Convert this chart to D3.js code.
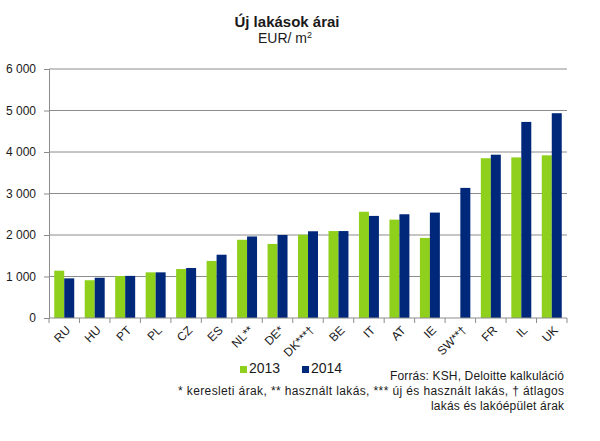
<!DOCTYPE html>
<html>
<head>
<meta charset="utf-8">
<script src="https://cdn.jsdelivr.net/npm/d3@7"></script>
<style>
body { margin: 0; background: #fff; }
text { font-family: "Liberation Sans", Arial, sans-serif; fill: #1a1a1a; }
</style>
</head>
<body>
<div id="chart"></div>
<script>
// adatok
var orszagok = ["RU", "HU", "PT", "PL", "CZ", "ES", "NL**", "DE*", "DK***†", "BE", "IT", "AT", "IE", "SW**†", "FR", "IL", "UK"];
var ev2013 = [1140, 910, 1010, 1100, 1180, 1375, 1885, 1785, 2005, 2095, 2560, 2370, 1930, null, 3850, 3870, 3920];
var ev2014 = [955, 970, 1015, 1100, 1205, 1525, 1965, 2000, 2090, 2095, 2460, 2500, 2540, 3135, 3935, 4725, 4935];
var evek = ["2013", "2014"];
var yTicks = [0, 1000, 2000, 3000, 4000, 5000, 6000];
var szinek = ["#8fd01c", "#00287a"];

var width = 600, height = 441;
var pLeft = 49, pRight = 567, pTop = 69, pBottom = 318;

var svg = d3.select("#chart")
	.append("svg")
	.attr("width", width)
	.attr("height", height);

var x = d3.scaleBand()
	.domain(orszagok)
	.range([pLeft, pRight]);

var x2 = d3.scaleBand()
	.domain(evek)
	.range([0, x.bandwidth()])
	.paddingOuter(0.525);

var y = d3.scaleLinear()
	.domain([0, 6000])
	.range([pBottom, pTop]);

var szam = function(d){ return d3.format(",")(d).replace(",", " "); };

// rácsvonalak
svg.append("g")
	.selectAll("line")
	.data(yTicks.filter(function(d){ return d > 0; }))
	.enter()
	.append("line")
	.attr("x1", pLeft)
	.attr("x2", pRight)
	.attr("y1", function(d){ return y(d); })
	.attr("y2", function(d){ return y(d); })
	.style("stroke", "#8c8c8c")
	.style("stroke-width", 1);

// y tengely
var yAxis = svg.append("g")
	.attr("transform", "translate(" + pLeft + ",0)")
	.call(d3.axisLeft(y).tickValues(yTicks).tickFormat(szam).tickSize(5).tickPadding(8));
yAxis.select(".domain").style("stroke", "#8c8c8c");
yAxis.selectAll(".tick line").style("stroke", "#8c8c8c");
yAxis.selectAll("text").style("font-size", "12px").style("fill", "#1a1a1a").style("font-family", "Liberation Sans, Arial, sans-serif");

// oszlopok
var adat = [];
orszagok.forEach(function(o, i){
	adat.push({orszag: o, ev: "2013", ertek: ev2013[i], szin: szinek[0]});
	adat.push({orszag: o, ev: "2014", ertek: ev2014[i], szin: szinek[1]});
});

svg.append("g")
	.selectAll("rect")
	.data(adat.filter(function(d){ return d.ertek != null; }))
	.enter()
	.append("rect")
	.attr("x", function(d){ return x(d.orszag) + x2(d.ev); })
	.attr("y", function(d){ return y(d.ertek); })
	.attr("width", x2.bandwidth())
	.attr("height", function(d){ return y(0) - y(d.ertek); })
	.style("fill", function(d){ return d.szin; });

// x tengely
svg.append("line")
	.attr("x1", pLeft).attr("x2", pRight)
	.attr("y1", pBottom).attr("y2", pBottom)
	.style("stroke", "#8c8c8c");

svg.append("g")
	.selectAll("line")
	.data(orszagok.concat(["vege"]))
	.enter()
	.append("line")
	.attr("x1", function(d, i){ return pLeft + i * x.step(); })
	.attr("x2", function(d, i){ return pLeft + i * x.step(); })
	.attr("y1", pBottom)
	.attr("y2", pBottom + 5)
	.style("stroke", "#8c8c8c");

svg.append("g")
	.selectAll("text")
	.data(orszagok)
	.enter()
	.append("text")
	.attr("transform", function(d){
		return "translate(" + (x(d) + x.bandwidth() / 2 + 4) + "," + (pBottom + 10) + ") rotate(-45)";
	})
	.attr("text-anchor", "end")
	.attr("dy", "0.35em")
	.style("font-size", "12px")
	.text(function(d){ return d; });

// cím
svg.append("text")
	.attr("x", 287).attr("y", 27)
	.attr("text-anchor", "middle")
	.style("font-size", "15px")
	.style("font-weight", "bold")
	.text("Új lakások árai");

var sub = svg.append("text")
	.attr("x", 285).attr("y", 43)
	.attr("text-anchor", "middle")
	.style("font-size", "14px");
sub.append("tspan").text("EUR/ m");
sub.append("tspan").attr("dy", -5).style("font-size", "9px").text("2");

// jelmagyarázat
var leg = svg.append("g")
	.selectAll("g")
	.data(evek)
	.enter()
	.append("g")
	.attr("transform", function(d, i){ return "translate(" + (240 + i * 62) + ",0)"; });

leg.append("rect")
	.attr("x", 0).attr("y", 366)
	.attr("width", 7).attr("height", 7)
	.style("fill", function(d, i){ return szinek[i]; });

leg.append("text")
	.attr("x", 9).attr("y", 373)
	.style("font-size", "14px")
	.text(function(d){ return d; });

// forrás
var forras = ["Forrás: KSH, Deloitte kalkuláció",
	"*  keresleti árak, ** használt  lakás, *** új és használt  lakás, † átlagos",
	"lakás  és  lakóépület árak"];
var forrasHossz = [174, 386, 133];

svg.append("g")
	.selectAll("text")
	.data(forras)
	.enter()
	.append("text")
	.attr("x", 564)
	.attr("y", function(d, i){ return 380 + i * 15; })
	.attr("text-anchor", "end")
	.attr("textLength", function(d, i){ return forrasHossz[i]; })
	.attr("lengthAdjust", "spacing")
	.style("font-size", "12px")
	.text(function(d){ return d; });
</script>
</body>
</html>
